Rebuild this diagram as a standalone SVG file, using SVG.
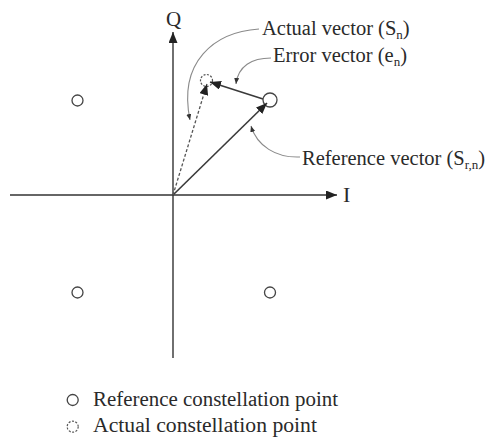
<svg xmlns="http://www.w3.org/2000/svg" width="487" height="443" viewBox="0 0 487 443">
<style>
text{font-family:"Liberation Serif","Times New Roman",serif;fill:#2a2a2a;}
.lbl{font-size:20.5px;}
.sub{font-size:13px;}
.axis{stroke:#333;stroke-width:1.4;fill:none;}
.vec{stroke:#3a3a3a;stroke-width:1.6;fill:none;}
.dvec{stroke:#555;stroke-width:1.3;fill:none;stroke-dasharray:3 2;}
.ann{stroke:#8a8a8a;stroke-width:1.1;fill:none;}
.pt{fill:none;stroke:#444;stroke-width:1.3;}
.apt{fill:none;stroke:#555;stroke-width:1.2;stroke-dasharray:2 1.5;}
</style>
<defs>
<marker id="big" markerUnits="userSpaceOnUse" markerWidth="12" markerHeight="10" refX="11" refY="4.5" orient="auto">
<path d="M0,0 L11,4.5 L0,9 Z" fill="#222"/>
</marker>
<marker id="small" markerUnits="userSpaceOnUse" markerWidth="7" markerHeight="6" refX="6" refY="2.5" orient="auto">
<path d="M0,0 L6,2.5 L0,5 Z" fill="#333"/>
</marker>
</defs>
<rect width="487" height="443" fill="#ffffff"/>
<g id="axes">
<line class="axis" x1="173" y1="358" x2="173" y2="32" marker-end="url(#big)"/>
<line class="axis" x1="10" y1="195" x2="337" y2="195" marker-end="url(#big)"/>
<text x="166" y="26" style="font-size:21px">Q</text>
<text x="343" y="202" style="font-size:22px">I</text>
</g>
<g id="ref-point-tl"><circle class="pt" cx="77.5" cy="100.5" r="5.5"/></g>
<g id="ref-point-bl"><circle class="pt" cx="77.5" cy="292.5" r="5.5"/></g>
<g id="ref-point-br"><circle class="pt" cx="270" cy="292.5" r="5.5"/></g>
<g id="ref-point-tr"><circle class="pt" cx="270" cy="100" r="7"/></g>
<g id="actual-point"><circle class="apt" cx="206.5" cy="80.5" r="6"/></g>
<g id="connectors">
<line class="vec" x1="173" y1="195" x2="267" y2="103" marker-end="url(#big)"/>
<line class="vec" x1="263" y1="99" x2="210" y2="82" marker-end="url(#big)"/>
<line class="dvec" x1="173" y1="195" x2="207" y2="84" marker-end="url(#big)"/>
<path class="ann" d="M259 29 C214 32 178 62 190 120" marker-end="url(#small)"/>
<path class="ann" d="M271 58 C252 58 238 66 236 84" marker-end="url(#small)"/>
<path class="ann" d="M300 157 C276 158 257 146 251 126" marker-end="url(#small)"/>
</g>
<g id="label-actual-vector">
<text class="lbl" x="262" y="35">Actual vector (S<tspan class="sub" dy="4">n</tspan><tspan dy="-4">)</tspan></text>
</g>
<g id="label-error-vector">
<text class="lbl" x="273" y="62">Error vector (e<tspan class="sub" dy="4">n</tspan><tspan dy="-4">)</tspan></text>
</g>
<g id="label-reference-vector">
<text class="lbl" x="302" y="165">Reference vector (S<tspan class="sub" dy="4">r,n</tspan><tspan dy="-4">)</tspan></text>
</g>
<g id="legend">
<circle class="pt" cx="72.7" cy="400" r="5.5"/>
<text class="lbl" x="93" y="405.5" textLength="245" lengthAdjust="spacingAndGlyphs">Reference constellation point</text>
<circle class="apt" cx="72.7" cy="426.7" r="5.5"/>
<text class="lbl" x="93" y="431.7" textLength="224" lengthAdjust="spacingAndGlyphs">Actual constellation point</text>
</g>
</svg>
